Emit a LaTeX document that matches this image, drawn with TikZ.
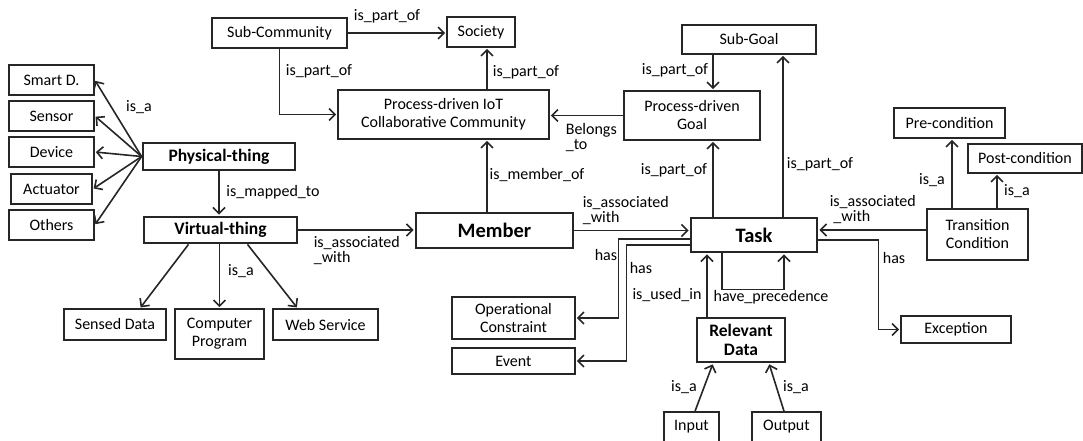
\documentclass[tikz,border=0pt]{standalone}
\usepackage{fontspec}
\setmainfont{Carlito}
\usetikzlibrary{arrows.meta, positioning}

\begin{document}
\begin{tikzpicture}[x=1pt, y=-1pt, shorten >=1pt, ->, >={Straight Barb[length=6pt,width=12pt]}, draw=black!85, line width=1.6pt]
    \tikzstyle{concept}=[draw=black!85, line width=1.6pt, inner sep=0pt, align=center, minimum height=30pt, font=\fontsize{16}{18}\selectfont]
    \tikzstyle{key concept}=[concept, line width=2.8pt, font=\fontsize{17.5}{19}\selectfont\bfseries]
    \tikzstyle{main concept}=[key concept, font=\fontsize{20.5}{22}\selectfont\bfseries]
    \tikzstyle{rel}=[inner sep=0pt, align=left, font=\fontsize{16}{15}\selectfont]

    \useasboundingbox (0,0) rectangle (1083,441);

    % Draw the kinds of physical things
    \foreach \i/\txt/\y/\w in {1/Smart D./80/85, 2/Sensor/116/85, 3/Device/152/85, 4/Actuator/189/81, 5/Others/225/85}
        \node[concept, minimum width=\w pt] (K-\i) at (51.5,\y) {\txt};

    % Draw the things
    \node[key concept, minimum width=152pt, minimum height=27pt] (P-thing) at (219,156.5) {Physical-thing};
    \node[key concept, minimum width=153pt, minimum height=26pt] (V-thing) at (220.5,230) {Virtual-thing};
    \node[concept, minimum width=102pt, minimum height=31pt] (SD) at (115,324.5) {Sensed Data};
    \node[concept, minimum width=89pt, minimum height=50pt] (CP) at (219.5,334) {Computer\\Program};
    \node[concept, minimum width=105pt, minimum height=31pt] (WS) at (325.5,324.5) {Web Service};

    % Draw the community and goal nodes
    \node[concept, minimum width=135pt] (S-comm) at (279.5,33) {Sub-Community};
    \node[concept, minimum width=68pt] (Society) at (481,32) {Society};
    \node[concept, minimum width=211pt, minimum height=49pt] (Comm) at (443.5,114.5) {Process-driven IoT\\Collaborative Community};
    \node[concept, minimum width=136pt, minimum height=49pt] (Goal) at (692,115.5) {Process-driven\\Goal};
    \node[concept, minimum width=134pt, minimum height=29pt] (S-goal) at (749,39.5) {Sub-Goal};

    % Draw the member and the task
    \node[main concept, minimum width=157pt, minimum height=35pt] (Member) at (494.5,230.5) {Member};
    \node[main concept, minimum width=126pt, minimum height=34pt] (Task) at (754,235) {Task};

    % Draw what the task has
    \node[concept, minimum width=123pt, minimum height=42pt] (OpCon) at (513.5,318) {Operational\\Constraint};
    \node[concept, minimum width=123pt, minimum height=26pt] (Event) at (513.5,361) {Event};
    \node[key concept, minimum width=88pt, minimum height=44pt] (RD) at (741,340) {Relevant\\Data};
    \node[concept, minimum width=55pt] (Input) at (691.5,427) {Input};
    \node[concept, minimum width=69pt] (Output) at (786.5,427) {Output};
    \node[concept, minimum width=111pt] (Pre) at (949.5,123) {Pre-condition};
    \node[concept, minimum width=114pt, minimum height=29pt] (Post) at (1025,158.5) {Post-condition};
    \node[concept, minimum width=101pt, minimum height=51pt] (TC) at (977.5,234.5) {Transition\\Condition};
    \node[concept, minimum width=110pt, minimum height=27pt] (Exc) at (956,329.5) {Exception};

    % Connect the physical thing with its kinds
    \foreach \i in {1,...,5}
        \draw (P-thing.west) -- (K-\i.east);
    \draw (P-thing.south) -- (P-thing.south |- V-thing.north);

    % Connect the virtual thing
    \draw (V-thing.east) -- (V-thing.east -| Member.west);
    \draw ([xshift=-32pt]V-thing.south) -- ([xshift=25pt]SD.north);
    \draw (V-thing.south -| CP.north) -- (CP.north);
    \draw ([xshift=27pt]V-thing.south) -- ([xshift=-28pt]WS.north);

    % Community and goals
    \draw (S-comm.east) -- (S-comm.east -| Society.west);
    \draw (S-comm.south) |- (Comm.west);
    \draw ([xshift=6pt]Society.south |- Comm.north) -- ([xshift=6pt]Society.south);
    \draw (Goal.west) -- (Goal.west -| Comm.east);
    \draw ([xshift=21pt]Goal.north |- S-goal.south) -- ([xshift=21pt]Goal.north);
    \draw ([xshift=21pt]Goal.south |- Task.north) -- ([xshift=21pt]Goal.south);
    \draw ([xshift=34pt]S-goal.south |- Task.north) -- ([xshift=34pt]S-goal.south);
    \draw ([xshift=-7.5pt]Member.north) -- ([xshift=-7.5pt]Member.north |- Comm.south);
    \draw (Member.east) -- (Member.east -| Task.west);

    % Transition condition
    \draw ([yshift=4.5pt]TC.west) -- ([yshift=4.5pt]TC.west -| Task.east);
    \draw ([xshift=2.5pt]Pre.south |- TC.north) -- ([xshift=2.5pt]Pre.south);
    \draw ([xshift=-28pt]Post.south |- TC.north) -- ([xshift=-28pt]Post.south);

    % What the task has
    \draw ([yshift=-4pt]Task.west) -- ++(-71,0) |- (OpCon.east);
    \draw ([yshift=-10pt]Task.west) -- ++(-63,0) |- (Event.east);
    \draw ([yshift=-5pt]Task.east) -- ++(60,0) |- (Exc.west);
    \draw ([xshift=-34pt]RD.north) -- ([xshift=-34pt]RD.north |- Task.south);
    \draw ([xshift=-32pt]Task.south) -- ++(0,36) -| ([xshift=30pt]Task.south);
    \draw ([xshift=3.5pt]Input.north) -- ([xshift=-28pt]RD.south);
    \draw ([xshift=-2.5pt]Output.north) -- ([xshift=28pt]RD.south);

    % Annotate the connectors
    \node[rel] (r-isa1) at (139,107) {is\_a};
    \node[rel] (r-map) at (273,192) {is\_mapped\_to};
    \node[rel, anchor=west] (r-assoc1) at (313,250.5) {is\_associated\\\_with};
    \node[rel] (r-isa2) at (241,271) {is\_a};
    \node[rel] (r-part1) at (387,16) {is\_part\_of};
    \node[rel] (r-part2) at (319,71) {is\_part\_of};
    \node[rel] (r-part3) at (526,72) {is\_part\_of};
    \node[rel, anchor=west] (r-belong) at (565,138) {Belongs\\\_to};
    \node[rel] (r-part4) at (675,70) {is\_part\_of};
    \node[rel] (r-part5) at (674,170) {is\_part\_of};
    \node[rel] (r-part6) at (820,164) {is\_part\_of};
    \node[rel] (r-member) at (537,175) {is\_member\_of};
    \node[rel, anchor=west] (r-assoc2) at (582,211) {is\_associated\\\_with};
    \node[rel, anchor=west] (r-assoc3) at (829,209.5) {is\_associated\\\ \_with};
    \node[rel] (r-isa3) at (932,180) {is\_a};
    \node[rel] (r-isa4) at (1017,191) {is\_a};
    \node[rel] (r-has1) at (606,255) {has};
    \node[rel] (r-has2) at (641,268) {has};
    \node[rel] (r-used) at (667,295) {is\_used\_in};
    \node[rel] (r-prec) at (771,297) {have\_precedence};
    \node[rel] (r-has3) at (894,258) {has};
    \node[rel] (r-isa5) at (684,387) {is\_a};
    \node[rel] (r-isa6) at (796,387) {is\_a};
\end{tikzpicture}
\end{document}
